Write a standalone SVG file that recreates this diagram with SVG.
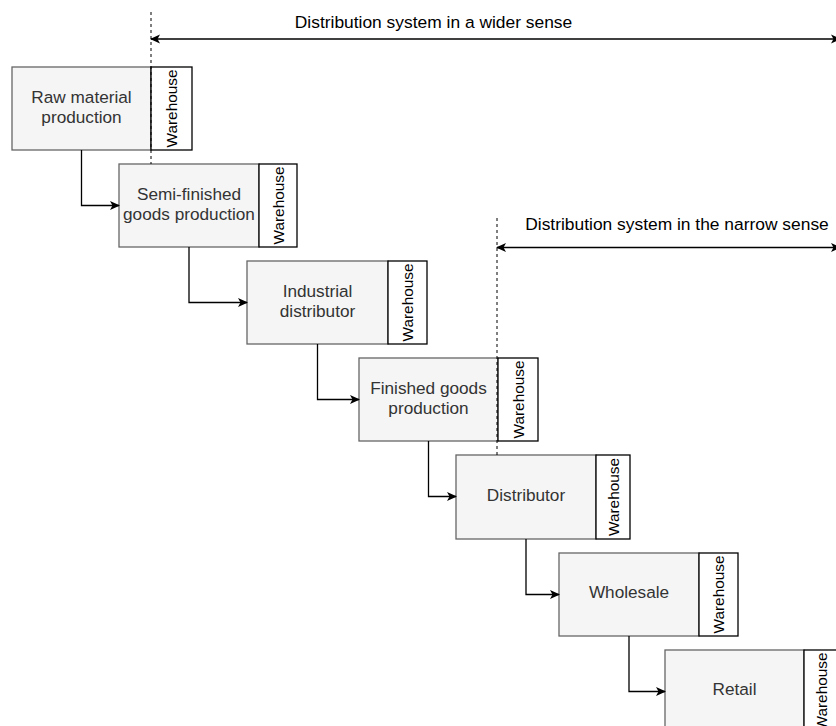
<svg xmlns="http://www.w3.org/2000/svg" width="836" height="726" viewBox="0 0 836 726">
<defs>
<marker id="arr" viewBox="0 0 10 10" refX="9" refY="5" markerWidth="10" markerHeight="10" markerUnits="userSpaceOnUse" orient="auto-start-reverse">
<path d="M0,0.5 L10,5 L0,9.5 L2.5,5 Z" fill="#000"/>
</marker>
</defs>
<style>
.main{fill:#f5f5f5;stroke:#666666;stroke-width:1.3}
.wh{fill:#ffffff;stroke:#000000;stroke-width:1.3}
.lbl{font-family:"Liberation Sans",Arial,sans-serif;font-size:17.2px;fill:#333333;text-anchor:middle}
.whl{font-family:"Liberation Sans",Arial,sans-serif;font-size:15.4px;fill:#000000;text-anchor:middle}
.top{font-family:"Liberation Sans",Arial,sans-serif;font-size:17.4px;fill:#000000;text-anchor:middle}
.con{fill:none;stroke:#000;stroke-width:1.3}
.dash{fill:none;stroke:#000;stroke-width:1;stroke-dasharray:3,3}
</style>
<rect width="836" height="726" fill="#ffffff"/>
<g id="node1">
<rect class="main" x="12" y="67" width="139" height="83"/>
<rect class="wh" x="151" y="67" width="41" height="83"/>
<text class="lbl" x="81.5" y="103">Raw material</text>
<text class="lbl" x="81.5" y="123">production</text>
<text class="whl" transform="translate(171.5,108.5) rotate(-90)" y="5.5">Warehouse</text>
</g>
<g id="node2">
<rect class="main" x="119" y="164" width="140" height="83"/>
<rect class="wh" x="259" y="164" width="38" height="83"/>
<text class="lbl" x="189" y="200">Semi-finished</text>
<text class="lbl" x="189" y="220">goods production</text>
<text class="whl" transform="translate(278,205.5) rotate(-90)" y="5.5">Warehouse</text>
</g>
<g id="node3">
<rect class="main" x="247" y="261" width="141" height="83"/>
<rect class="wh" x="388" y="261" width="39" height="83"/>
<text class="lbl" x="317.5" y="297">Industrial</text>
<text class="lbl" x="317.5" y="317">distributor</text>
<text class="whl" transform="translate(407.5,302.5) rotate(-90)" y="5.5">Warehouse</text>
</g>
<g id="node4">
<rect class="main" x="359" y="358" width="139" height="83"/>
<rect class="wh" x="498" y="358" width="40" height="83"/>
<text class="lbl" x="428.5" y="394">Finished goods</text>
<text class="lbl" x="428.5" y="414">production</text>
<text class="whl" transform="translate(518,399.5) rotate(-90)" y="5.5">Warehouse</text>
</g>
<g id="node5">
<rect class="main" x="456" y="455" width="140" height="84"/>
<rect class="wh" x="596" y="455" width="34" height="84"/>
<text class="lbl" x="526" y="501">Distributor</text>
<text class="whl" transform="translate(613,497) rotate(-90)" y="5.5">Warehouse</text>
</g>
<g id="node6">
<rect class="main" x="559" y="553" width="140" height="83"/>
<rect class="wh" x="699" y="553" width="39" height="83"/>
<text class="lbl" x="629" y="598">Wholesale</text>
<text class="whl" transform="translate(718.5,594.5) rotate(-90)" y="5.5">Warehouse</text>
</g>
<g id="node7">
<rect class="main" x="665" y="650" width="139" height="83"/>
<rect class="wh" x="804" y="650" width="40" height="83"/>
<text class="lbl" x="734.5" y="695">Retail</text>
<text class="whl" transform="translate(821,691.5) rotate(-90)" y="5.5">Warehouse</text>
</g>
<g id="connectors">
<path class="con" d="M81.5,150 V205.5 H119" marker-end="url(#arr)"/>
<path class="con" d="M189,247 V302.5 H247" marker-end="url(#arr)"/>
<path class="con" d="M317.5,344 V399.5 H359" marker-end="url(#arr)"/>
<path class="con" d="M428.5,441 V496.5 H456" marker-end="url(#arr)"/>
<path class="con" d="M526,539 V594.5 H559" marker-end="url(#arr)"/>
<path class="con" d="M629,636 V691.5 H665" marker-end="url(#arr)"/>
<path class="dash" d="M151,12 V164"/>
<path class="dash" d="M497,218 V455"/>
<path class="con" d="M151,39 H840" marker-start="url(#arr)" marker-end="url(#arr)"/>
<path class="con" d="M497,247.5 H840" marker-start="url(#arr)" marker-end="url(#arr)"/>
</g>
<g id="labels">
<text class="top" x="433.5" y="28">Distribution system in a wider sense</text>
<text class="top" x="677" y="230">Distribution system in the narrow sense</text>
</g>
</svg>
